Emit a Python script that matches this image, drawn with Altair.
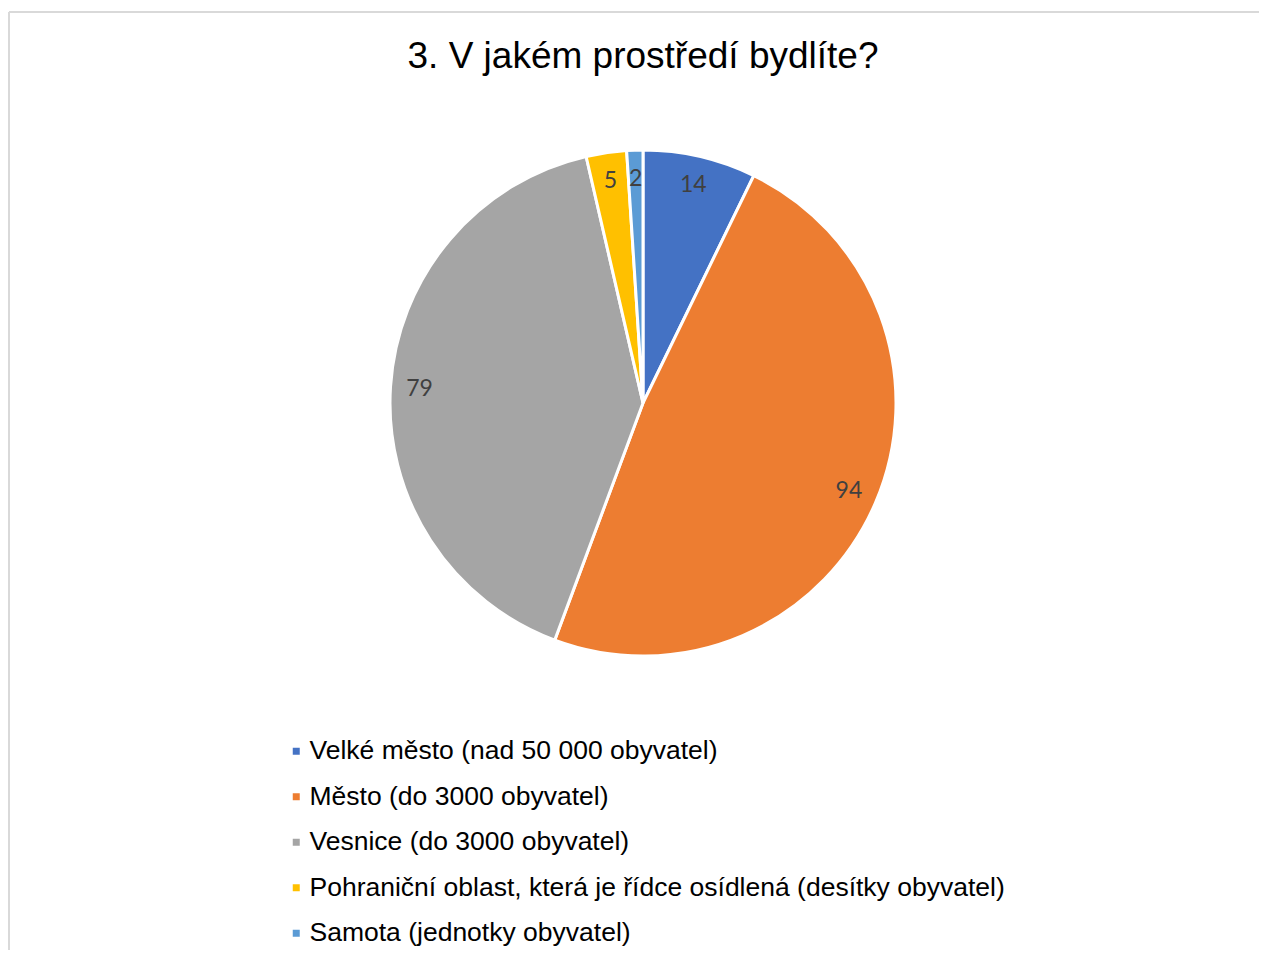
import altair as alt
import pandas as pd

categories = [
    "Velké město (nad 50 000 obyvatel)",
    "Město (do 3000 obyvatel)",
    "Vesnice (do 3000 obyvatel)",
    "Pohraniční oblast, která je řídce osídlená (desítky obyvatel)",
    "Samota (jednotky obyvatel)",
]
values = [14, 94, 79, 5, 2]
colors = ["#4472C4", "#ED7D31", "#A5A5A5", "#FFC000", "#5B9BD5"]
title_text = "3. V jakém prostředí bydlíte?"

df = pd.DataFrame({"cat": categories, "value": values, "idx": list(range(len(values)))})

W, H = 1250, 938
CX, CY, R = 634, 391, 253

base = alt.Chart(df).encode(
    theta=alt.Theta("value:Q", stack=True),
    order=alt.Order("idx:Q"),
)

arcs = base.mark_arc(outerRadius=R, stroke="white", strokeWidth=3).encode(
    x=alt.value(CX),
    y=alt.value(CY),
    color=alt.Color(
        "cat:N",
        sort=categories,
        scale=alt.Scale(domain=categories, range=colors),
        legend=alt.Legend(
            orient="none",
            legendX=265,
            legendY=726,
            title=None,
            symbolType="square",
            symbolSize=49,
            symbolStrokeWidth=0,
            symbolOffset=9,
            labelFontSize=26.5,
            labelFont="Liberation Sans",
            labelColor="#000000",
            labelOffset=0,
            rowPadding=18.5,
            labelLimit=1000,
            padding=0,
        ),
    ),
)

labels = base.mark_text(
    radius=224, fontSize=23, font="Lato", color="#404040", align="center", baseline="middle"
).encode(
    x=alt.value(CX),
    y=alt.value(CY),
    text=alt.Text("value:Q"),
)

title_df = pd.DataFrame({"t": [title_text]})
title = alt.Chart(title_df).mark_text(
    fontSize=37, font="Liberation Sans", color="#000000", align="center", baseline="alphabetic"
).encode(x=alt.value(CX), y=alt.value(56), text="t:N")

border_top = alt.Chart(title_df).mark_rule(color="#D9D9D9", strokeWidth=2).encode(
    x=alt.value(0), x2=alt.value(W), y=alt.value(0)
)
border_left = alt.Chart(title_df).mark_rule(color="#D9D9D9", strokeWidth=2).encode(
    x=alt.value(0), y=alt.value(0), y2=alt.value(H)
)

chart = (
    alt.layer(border_top, border_left, arcs, labels, title)
    .properties(width=W, height=H, padding={"left": 0, "top": 3, "right": 0, "bottom": 0})
    .configure_view(stroke=None)
)

chart.save("out.html", embed_options={"renderer": "svg", "actions": False})
